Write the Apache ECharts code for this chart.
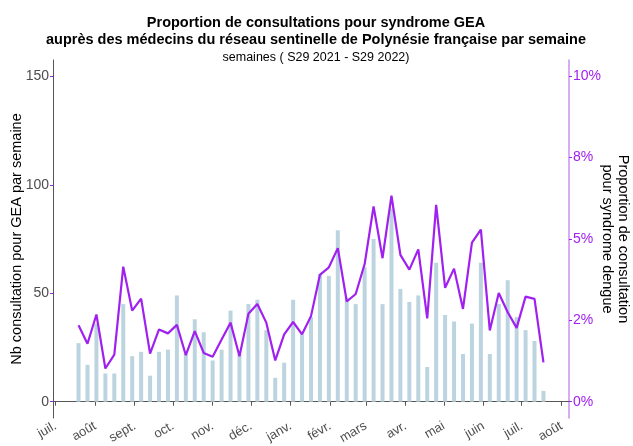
<!DOCTYPE html>
<html>
<head>
  <meta charset="UTF-8">
  <title>GEA Polynésie</title>
  <script src="https://cdn.jsdelivr.net/npm/echarts@6/dist/echarts.min.js"></script>
  <style>
    html, body { margin: 0; padding: 0; background: #fff; }
    #main { width: 633px; height: 446px; }
  </style>
</head>
<body>
<div id="main"></div>
<script type="text/javascript">
  // semaines S29 2021 -> S29 2022 (lundi de chaque semaine)
  var firstWeek = Date.UTC(2021, 6, 19);

  // Nb consultations GEA par semaine (axe gauche)
  var gea = [27, 17, 36, 13, 13, 45, 21, 23, 12, 23, 24, 49, 22, 38, 32, 19,
             24, 42, 22, 45, 47, 33, 11, 18, 47, 31, 39, 59, 58, 79, 48, 45,
             62, 75, 45, 89, 52, 46, 49, 16, 64, 40, 37, 22, 36, 64, 22, 45,
             56, 39, 33, 28, 5];

  // proportion de consultations (%) (axe droit)
  var proportion = [2.35, 1.78, 2.68, 1.02, 1.45, 4.15, 2.80, 3.17, 1.48, 2.22, 2.10, 2.36, 1.43, 2.17, 1.50, 1.38,
                    1.91, 2.43, 1.40, 2.70, 3.00, 2.43, 1.27, 2.07, 2.45, 2.07, 2.63, 3.90, 4.13, 4.72, 3.08, 3.31,
                    4.23, 6.00, 4.41, 6.33, 4.51, 4.06, 4.68, 2.56, 6.05, 3.50, 4.09, 2.85, 4.89, 5.29, 2.19, 3.34,
                    2.75, 2.27, 3.23, 3.16, 1.21];

  var monthLabels = ['juil.', 'août', 'sept.', 'oct.', 'nov.', 'déc.', 'janv.', 'févr.', 'mars', 'avr.', 'mai', 'juin', 'juil.', 'août'];
  var leftTicks = [0, 50, 100, 150];
  var rightTicks = [0, 2.5, 5, 7.5, 10];
  var rightTickLabels = ['0%', '2%', '5%', '8%', '10%'];

  // debut de chaque mois juil. 2021 -> août 2022
  var monthTicks = monthLabels.map(function (m, i) {
    return Date.UTC(2021, 6 + i, 1);
  });

  var barData = gea.map(function (v, i) {
    return [firstWeek + i * 7 * 86400000, v];
  });
  var lineData = proportion.map(function (v, i) {
    return [firstWeek + i * 7 * 86400000, v];
  });

  var myChart = echarts.init(document.getElementById('main'));
  var font = 'Liberation Sans, Arial, sans-serif';

  var option = {
    animation: false,
    textStyle: { fontFamily: font },
    title: {
      text: 'Proportion de consultations pour syndrome GEA\nauprès des médecins du réseau sentinelle de Polynésie française par semaine',
      subtext: 'semaines ( S29 2021 - S29 2022)',
      left: 311,
      textAlign: 'center',
      top: 9,
      itemGap: 3,
      textStyle: { fontSize: 14.5, fontWeight: 'bold', color: '#000', lineHeight: 17, fontFamily: font },
      subtextStyle: { fontSize: 12.5, color: '#000', fontFamily: font }
    },
    grid: {
      left: 53,
      right: 64,
      top: 60,
      bottom: 28,
      outerBoundsMode: 'none'
    },
    xAxis: {
      type: 'value',
      min: Date.UTC(2021, 5, 29),
      max: Date.UTC(2022, 7, 7),
      splitLine: { show: false },
      axisLine: { lineStyle: { color: '#555', width: 1 } },
      axisTick: {
        customValues: monthTicks,
        length: 4,
        lineStyle: { color: '#555' }
      },
      axisLabel: {
        customValues: monthTicks,
        rotate: 30,
        margin: 7,
        fontSize: 13,
        color: '#4d4d4d',
        formatter: function (v) {
          var idx = monthTicks.indexOf(v);
          return idx >= 0 ? monthLabels[idx] : '';
        }
      }
    },
    yAxis: [
      {
        type: 'value',
        min: -7.5,
        max: 157.5,
        position: 'left',
        name: 'Nb consultation pour GEA par semaine',
        nameLocation: 'middle',
        nameMoveOverlap: false,
        nameGap: 29,
        nameTextStyle: { fontSize: 14.5, color: '#000' },
        splitLine: { show: false },
        axisLine: { show: true, lineStyle: { color: '#555', width: 1 } },
        axisTick: {
          show: true,
          customValues: leftTicks,
          length: 3,
          lineStyle: { color: '#a020f0' }
        },
        axisLabel: {
          customValues: leftTicks,
          fontSize: 14,
          margin: 4,
          color: '#4d4d4d'
        }
      },
      {
        type: 'value',
        min: -0.5,
        max: 10.5,
        position: 'right',
        name: 'Proportion de consultation\npour syndrome dengue',
        nameLocation: 'middle',
        nameMoveOverlap: false,
        nameRotate: -90,
        nameGap: 30,
        nameTextStyle: { fontSize: 14.5, color: '#000', lineHeight: 16 },
        splitLine: { show: false },
        axisLine: { show: true, lineStyle: { color: '#c990f5', width: 1.5 } },
        axisTick: {
          show: true,
          customValues: rightTicks,
          length: 3,
          lineStyle: { color: '#a020f0' }
        },
        axisLabel: {
          customValues: rightTicks,
          fontSize: 14,
          margin: 4,
          color: '#a020f0',
          formatter: function (v) {
            var idx = rightTicks.indexOf(v);
            return idx >= 0 ? rightTickLabels[idx] : '';
          }
        }
      }
    ],
    series: [
      {
        name: 'Nb consultation GEA',
        type: 'bar',
        yAxisIndex: 0,
        barWidth: 4,
        itemStyle: { color: '#bcd4e0' },
        data: barData
      },
      {
        name: 'Proportion',
        type: 'line',
        yAxisIndex: 1,
        symbol: 'none',
        lineStyle: { color: '#a020f0', width: 2.2 },
        data: lineData
      }
    ]
  };
  myChart.setOption(option);
</script>
</body>
</html>
